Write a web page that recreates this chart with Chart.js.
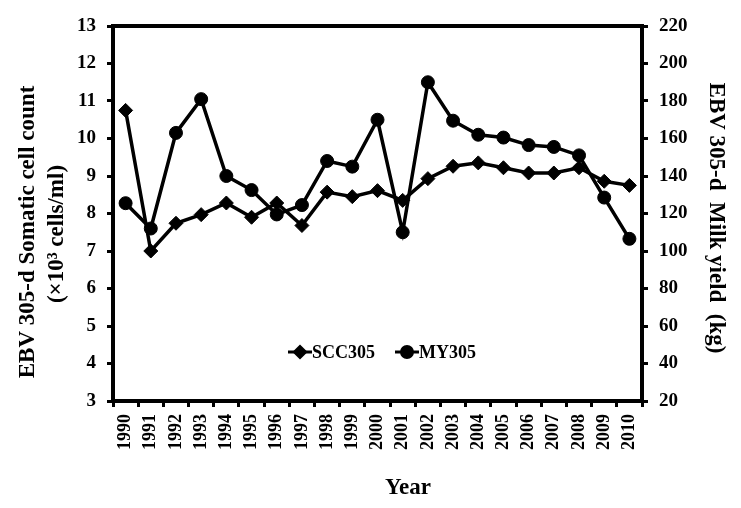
<!DOCTYPE html>
<html>
<head>
<meta charset="utf-8">
<script src="https://cdn.jsdelivr.net/npm/chart.js@4.4.1/dist/chart.umd.min.js"></script>
<style>
  body { margin: 0; background: #fff; }
  #wrap { width: 741px; height: 508px; }
</style>
</head>
<body>
<div id="wrap"><canvas id="myChart"></canvas></div>
<script>
// data
const years = ['1990', '1991', '1992', '1993', '1994', '1995', '1996', '1997', '1998', '1999', '2000',
  '2001', '2002', '2003', '2004', '2005', '2006', '2007', '2008', '2009', '2010'];
const scc305 = [10.75, 7.0, 7.74, 7.97, 8.28, 7.9, 8.28, 7.68, 8.57, 8.45, 8.61,
  8.35, 8.93, 9.26, 9.35, 9.22, 9.08, 9.08, 9.22, 8.86, 8.75];
const my305 = [125.5, 112, 163, 181, 140, 132.5, 119.5, 124.5, 148, 145, 170,
  110, 190, 169.5, 162, 160.5, 156.5, 155.5, 151, 128.5, 106.5];
const leftTicks = [3, 13, 1];     // min, max, step
const rightTicks = [20, 220, 20];

const serif = "'Liberation Serif', 'Times New Roman', serif";

// frame round the plot, axis titles and the legend inside the plot
const decor = {
  id: 'decor',
  beforeDatasetsDraw(chart) {
    const { ctx, chartArea: a } = chart;
    ctx.save();
    ctx.lineWidth = 4;
    ctx.strokeStyle = '#000';
    ctx.strokeRect(a.left, a.top, a.right - a.left, a.bottom - a.top);
    ctx.restore();
  },
  afterDraw(chart) {
    const { ctx } = chart;
    ctx.save();
    ctx.fillStyle = '#000';
    ctx.textAlign = 'center';
    ctx.textBaseline = 'middle';
    ctx.font = 'bold 23px ' + serif;

    // left title, two lines
    ctx.save();
    ctx.translate(28, 232);
    ctx.rotate(-Math.PI / 2);
    ctx.fillText('EBV 305-d Somatic cell count', 0, 0);
    ctx.restore();
    ctx.save();
    ctx.translate(57, 234);
    ctx.rotate(-Math.PI / 2);
    ctx.fillText('(×10³ cells/ml)', 0, 0);
    ctx.restore();

    // right title
    ctx.save();
    ctx.translate(716, 218);
    ctx.rotate(Math.PI / 2);
    ctx.fillText('EBV 305-d  Milk yield  (kg)', 0, 0);
    ctx.restore();

    // x title
    ctx.fillText('Year', 408, 488);

    // legend
    ctx.font = 'bold 18px ' + serif;
    ctx.textAlign = 'left';
    const items = [{ x: 300, ds: chart.data.datasets[0] }, { x: 407, ds: chart.data.datasets[1] }];
    const y = 352;
    items.forEach(it => {
      ctx.strokeStyle = '#000';
      ctx.lineWidth = 3;
      ctx.beginPath();
      ctx.moveTo(it.x - 12, y);
      ctx.lineTo(it.x + 12, y);
      ctx.stroke();
      Chart.helpers.drawPoint(ctx, { pointStyle: it.ds.pointStyle, radius: 5.5, borderWidth: 1 }, it.x, y);
      ctx.fillStyle = '#000';
      ctx.fillText(it.ds.label, it.x + 12, y + 1);
    });
    ctx.restore();
  }
};

const ctx = document.getElementById('myChart').getContext('2d');
const myChart = new Chart(ctx, {
  type: 'line',
  data: {
    labels: years,
    datasets: [
      {
        label: 'SCC305',
        data: scc305,
        yAxisID: 'y',
        borderColor: '#000',
        backgroundColor: '#000',
        borderWidth: 3.5,
        pointStyle: 'rectRot',
        pointRadius: 7,
        pointBorderWidth: 1,
        tension: 0
      },
      {
        label: 'MY305',
        data: my305,
        yAxisID: 'y1',
        borderColor: '#000',
        backgroundColor: '#000',
        borderWidth: 3.5,
        pointStyle: 'circle',
        pointRadius: 6.5,
        pointBorderWidth: 1,
        tension: 0
      }
    ]
  },
  options: {
    responsive: true,
    maintainAspectRatio: false,
    animation: false,
    layout: { padding: { top: 26, left: 0, right: 0, bottom: 0 } },
    plugins: {
      legend: { display: false },
      tooltip: { enabled: false }
    },
    scales: {
      x: {
        offset: true,
        grid: { offset: true, drawOnChartArea: false, drawTicks: true, tickLength: 6, tickWidth: 3, tickColor: '#000' },
        border: { display: false },
        ticks: {
          color: '#000', autoSkip: false, minRotation: 90, maxRotation: 90, padding: 7,
          font: { family: serif, size: 18, weight: 'bold' }
        },
        afterFit(scale) { scale.height = 107; }
      },
      y: {
        position: 'left',
        min: leftTicks[0],
        max: leftTicks[1],
        grid: { drawOnChartArea: false, drawTicks: true, tickLength: 6, tickWidth: 3, tickColor: '#000' },
        border: { display: false },
        ticks: {
          stepSize: leftTicks[2], color: '#000', padding: 11,
          font: { family: serif, size: 19, weight: 'bold' }
        },
        afterFit(scale) { scale.width = 113; }
      },
      y1: {
        position: 'right',
        min: rightTicks[0],
        max: rightTicks[1],
        grid: { drawOnChartArea: false, drawTicks: true, tickLength: 6, tickWidth: 3, tickColor: '#000' },
        border: { display: false },
        ticks: {
          stepSize: rightTicks[2], color: '#000', padding: 11,
          font: { family: serif, size: 19, weight: 'bold' }
        },
        afterFit(scale) { scale.width = 99; }
      }
    }
  },
  plugins: [decor]
});
</script>
</body>
</html>
